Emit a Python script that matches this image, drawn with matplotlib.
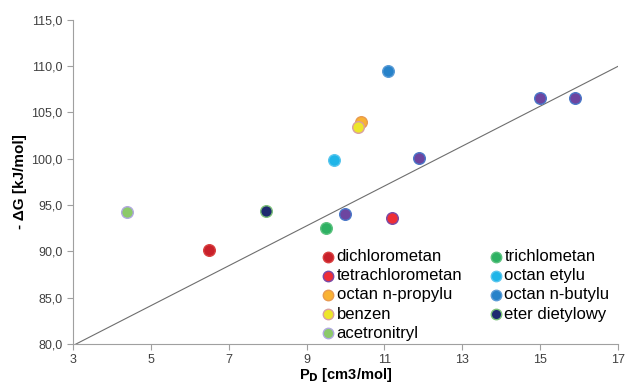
import numpy as np
import matplotlib
matplotlib.use("Agg")
import matplotlib.pyplot as plt
from matplotlib.ticker import FuncFormatter

# Data (P_D, -dG)
names = ["dichlorometan", "trichlometan", "tetrachlorometan", "octan etylu",
         "octan n-propylu", "octan n-butylu", "benzen", "eter dietylowy", "acetronitryl"]
px = [6.5, 9.5, 11.2, 9.7, 10.4, 11.1, 10.32, 7.95, 4.4]
py = [90.1, 92.5, 93.6, 99.85, 103.9, 109.5, 103.4, 94.3, 94.25]
face = ["#C8202A", "#2EB163", "#EE2E36", "#1FB5E8", "#F9B233", "#2782C9", "#EDE62A", "#1E2A70", "#8CC96A"]
edge = ["#D94040", "#5CC27F", "#7A4AA6", "#58C6EE", "#E89A50", "#5A9BD6", "#D9A0A0", "#7CC07A", "#B0A8E0"]

# Unlabelled series (purple points) and their trendline
fx = [10.0, 11.9, 15.0, 15.9]
fy = [94.0, 100.1, 106.5, 106.5]

xticks = [3, 5, 7, 9, 11, 13, 15, 17]
yticks = [80, 85, 90, 95, 100, 105, 110, 115]

plt.rcParams['font.family'] = ['Liberation Sans', 'DejaVu Sans']

fig = plt.figure(figsize=(6.27, 3.83), dpi=100)
ax = fig.add_axes([0.1164, 0.1018, 0.8692, 0.8472])

ax.set_xlim(3, 17)
ax.set_ylim(80, 115)

# trendline from purple series
k, b = np.polyfit(fx, fy, 1)
xl = np.array([3, 17])
ax.plot(xl, k * xl + b, color="#6E6E6E", lw=0.8, zorder=2)

handles = {}
for n, x, y, fc, ec in zip(names, px, py, face, edge):
    h = ax.scatter([x], [y], s=70, facecolor=fc, edgecolor=ec, linewidth=1.0, zorder=3, label=n)
    handles[n] = h
ax.scatter(fx, fy, s=70, facecolor="#6D45A0", edgecolor="#4A78C8", linewidth=1.0, zorder=3)

order = ["dichlorometan", "tetrachlorometan", "octan n-propylu", "benzen", "acetronitryl",
         "trichlometan", "octan etylu", "octan n-butylu", "eter dietylowy"]
leg = ax.legend([handles[o] for o in order], order, ncol=2, loc="lower left",
                bbox_to_anchor=((315 - 73) / 545, 0.0), frameon=False, fontsize=12,
                handletextpad=-0.1, columnspacing=1.42, labelspacing=0.25,
                markerscale=0.9, borderaxespad=0.0, borderpad=0.2, scatterpoints=1,
                handlelength=1.2)

for s in ["top", "right"]:
    ax.spines[s].set_visible(False)
for s in ["left", "bottom"]:
    ax.spines[s].set_color("#A0A0A0")
    ax.spines[s].set_linewidth(0.8)

ax.set_xticks(xticks)
ax.set_yticks(yticks)
ax.yaxis.set_major_formatter(FuncFormatter(lambda v, p: f"{v:.1f}".replace(".", ",")))
ax.tick_params(axis="both", colors="#A0A0A0", labelcolor="#404040", labelsize=9,
               length=4, width=0.8, direction="out")

ax.set_xlabel(r"P$_\mathbf{D}$ [cm3/mol]", fontsize=10.5, fontweight="bold", labelpad=0)
ax.set_ylabel("- \u0394G [kJ/mol]", fontsize=11, fontweight="bold", labelpad=3)

fig.savefig("out.png", dpi=100)
